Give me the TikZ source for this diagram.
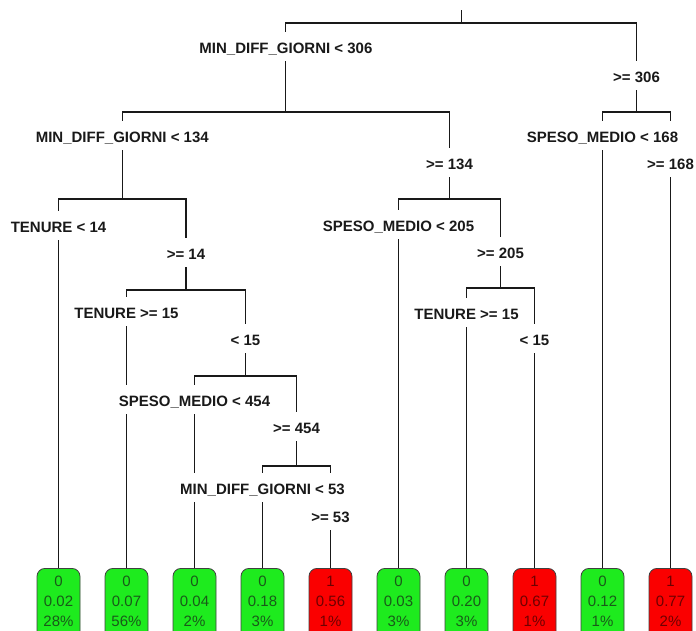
\documentclass[tikz,border=0pt]{standalone}
\usepackage{fontspec}
\setmainfont{Liberation Sans}
\definecolor{leafgreen}{RGB}{30,235,30}
\definecolor{leafred}{RGB}{250,0,0}
\definecolor{gtext}{RGB}{25,90,25}
\definecolor{rtext}{RGB}{110,0,0}
\pgfdeclarelayer{bg}
\pgfdeclarelayer{edges}
\pgfsetlayers{bg,edges,main}
\begin{document}
\begin{tikzpicture}[x=1pt,y=-1pt,
  split/.style={font=\bfseries\fontsize{15}{18}\selectfont, text=black!90, fill=white, text height=15pt, text depth=2pt, inner xsep=2pt, inner ysep=6pt, anchor=base},
  leafbox/.style={draw=black!75, line width=0.8pt, rounded corners=8pt, minimum width=43pt, inner xsep=2pt, inner ysep=7.3pt, align=center, anchor=north, font=\fontsize{15}{20}\selectfont},
  leafG/.style={leafbox, fill=leafgreen, text=gtext},
  leafR/.style={leafbox, fill=leafred, text=rtext},
  edge/.style={line width=1.1pt, black!90}]
\clip (0,0) rectangle (696,630);
\begin{pgfonlayer}{bg}
\fill[white] (0,0) rectangle (696,630);
\end{pgfonlayer}
% split coordinates and labels
\coordinate (r0) at (461.2,10);
\coordinate (r1) at (461.2,23);
\node[split] (a) at (285.9,53) {MIN\_DIFF\_GIORNI < 306};
\node[split] (b) at (636.5,82) {>= 306};
\coordinate (ab) at (285.9,112);
\coordinate (bb) at (636.5,112);
\node[split] (c) at (122.25,142) {MIN\_DIFF\_GIORNI < 134};
\node[split] (d) at (449.5,169) {>= 134};
\node[split] (e) at (602.5,142) {SPESO\_MEDIO < 168};
\node[split] (f) at (670.5,169) {>= 168};
\coordinate (cb) at (122.25,199);
\coordinate (db) at (449.5,199);
\node[split] (g) at (58.5,232) {TENURE < 14};
\node[split] (h) at (186,259) {>= 14};
\node[split] (i) at (398.5,231) {SPESO\_MEDIO < 205};
\node[split] (j) at (500.5,258) {>= 205};
\coordinate (hb) at (186,290);
\coordinate (jb) at (500.5,288);
\node[split] (k) at (126.5,318) {TENURE >= 15};
\node[split] (l) at (245.5,345) {< 15};
\node[split] (m) at (466.5,319) {TENURE >= 15};
\node[split] (n) at (534.5,345) {< 15};
\coordinate (lb) at (245.5,376);
\node[split] (o) at (194.5,406) {SPESO\_MEDIO < 454};
\node[split] (p) at (296.5,433) {>= 454};
\coordinate (pb) at (296.5,466);
\node[split] (q) at (262.5,494) {MIN\_DIFF\_GIORNI < 53};
\node[split] (s) at (330.5,522) {>= 53};
% leaves
\node[leafG] (L1) at (58.5,568) {0\\0.02\\28\%\\\phantom{0}};
\node[leafG] (L2) at (126.5,568) {0\\0.07\\56\%\\\phantom{0}};
\node[leafG] (L3) at (194.5,568) {0\\0.04\\2\%\\\phantom{0}};
\node[leafG] (L4) at (262.5,568) {0\\0.18\\3\%\\\phantom{0}};
\node[leafR] (L5) at (330.5,568) {1\\0.56\\1\%\\\phantom{0}};
\node[leafG] (L6) at (398.5,568) {0\\0.03\\3\%\\\phantom{0}};
\node[leafG] (L7) at (466.5,568) {0\\0.20\\3\%\\\phantom{0}};
\node[leafR] (L8) at (534.5,568) {1\\0.67\\1\%\\\phantom{0}};
\node[leafG] (L9) at (602.5,568) {0\\0.12\\1\%\\\phantom{0}};
\node[leafR] (L10) at (670.5,568) {1\\0.77\\2\%\\\phantom{0}};
% connectors
\begin{pgfonlayer}{edges}
\draw[edge] (r0) -- (r1);
\draw[edge] (r1) -| (a);
\draw[edge] (r1) -| (b);
\draw[edge] (a) -- (ab);
\draw[edge] (b) -- (bb);
\draw[edge] (ab) -| (c);
\draw[edge] (ab) -| (d);
\draw[edge] (bb) -| (e);
\draw[edge] (bb) -| (f);
\draw[edge] (c) -- (cb);
\draw[edge] (d) -- (db);
\draw[edge] (cb) -| (g);
\draw[edge] (cb) -| (h);
\draw[edge] (db) -| (i);
\draw[edge] (db) -| (j);
\draw[edge] (g) -- (L1);
\draw[edge] (h) -- (hb);
\draw[edge] (hb) -| (k);
\draw[edge] (hb) -| (l);
\draw[edge] (k) -- (L2);
\draw[edge] (l) -- (lb);
\draw[edge] (lb) -| (o);
\draw[edge] (lb) -| (p);
\draw[edge] (o) -- (L3);
\draw[edge] (p) -- (pb);
\draw[edge] (pb) -| (q);
\draw[edge] (pb) -| (s);
\draw[edge] (q) -- (L4);
\draw[edge] (s) -- (L5);
\draw[edge] (i) -- (L6);
\draw[edge] (j) -- (jb);
\draw[edge] (jb) -| (m);
\draw[edge] (jb) -| (n);
\draw[edge] (m) -- (L7);
\draw[edge] (n) -- (L8);
\draw[edge] (e) -- (L9);
\draw[edge] (f) -- (L10);
\end{pgfonlayer}
\end{tikzpicture}
\end{document}
